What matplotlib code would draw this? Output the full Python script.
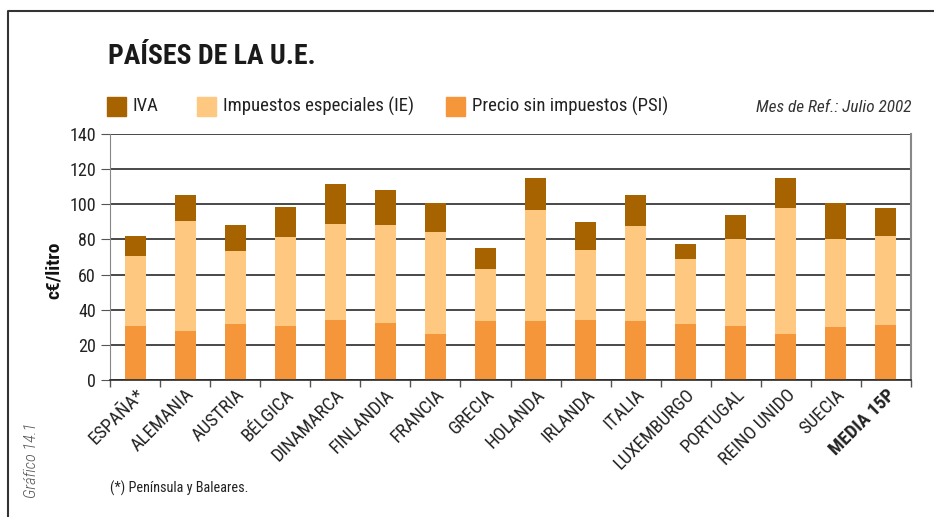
import matplotlib.pyplot as plt
from matplotlib.patches import Rectangle
from matplotlib.lines import Line2D
from matplotlib.ticker import MultipleLocator, FixedLocator

# c€/litro, julio 2002
paises = ['ESPAÑA*', 'ALEMANIA', 'AUSTRIA', 'BÉLGICA', 'DINAMARCA', 'FINLANDIA',
          'FRANCIA', 'GRECIA', 'HOLANDA', 'IRLANDA', 'ITALIA', 'LUXEMBURGO',
          'PORTUGAL', 'REINO UNIDO', 'SUECIA', 'MEDIA 15P']
psi = [30.9, 28.0, 32.0, 30.9, 34.3, 32.6, 26.3, 33.7,
       33.7, 34.3, 33.7, 32.0, 30.9, 26.3, 30.3, 31.4]
ie = [39.8, 62.5, 41.5, 50.6, 54.5, 55.7, 58.0, 29.6,
      63.1, 39.8, 54.0, 37.0, 49.4, 71.6, 50.0, 50.6]
iva = [11.3, 14.8, 14.8, 17.0, 22.8, 19.9, 16.5, 11.9,
       18.2, 15.9, 17.6, 8.5, 13.7, 17.1, 20.5, 15.9]

c_iva = '#A66300'
c_ie = '#FEC880'
c_psi = '#F6963A'

plt.rcParams['font.family'] = ['Roboto Condensed', 'Roboto', 'DejaVu Sans']

W, H = 934, 517
fig = plt.figure(figsize=(W / 100, H / 100), dpi=100)
ax = fig.add_axes([110 / W, 137 / H, 801 / W, 246 / H])


def fx(px):
    return px / W


def fy(py):
    return 1 - py / H


x = list(range(len(paises)))
w = 0.42
ax.bar(x, psi, w, color=c_psi, zorder=3)
ax.bar(x, ie, w, bottom=psi, color=c_ie, zorder=3)
base = [a + b for a, b in zip(psi, ie)]
ax.bar(x, iva, w, bottom=base, color=c_iva, zorder=3)

ax.set_xlim(-0.5, len(paises) - 0.5)
ax.set_ylim(0, 140)
ax.yaxis.set_major_locator(MultipleLocator(20))
ax.yaxis.grid(True, color='#2a2a2a', linewidth=1.2, zorder=1)
ax.set_axisbelow(True)

ax.spines['top'].set_visible(False)
ax.spines['left'].set_color('#888888')
ax.spines['right'].set_color('#888888')
ax.spines['right'].set_linewidth(1.5)
ax.spines['bottom'].set_color('#2a2a2a')
ax.spines['bottom'].set_linewidth(1.2)
ax.spines['bottom'].set_zorder(4)

ax.set_xticks(x)
ax.set_xticklabels(paises, rotation=45, ha='right', va='top',
                   rotation_mode='anchor', fontsize=13.5, color='#222222')
ax.get_xticklabels()[-1].set_fontweight('bold')
ax.tick_params(axis='x', which='major', length=0, pad=4)
ax.xaxis.set_minor_locator(FixedLocator([i - 0.5 for i in range(len(paises) + 1)]))
ax.tick_params(axis='x', which='minor', length=5, color='#555555', width=1)
ax.tick_params(axis='y', length=6.5, color='#555555', labelsize=13,
               labelcolor='#222222', pad=3.5)

fig.text(fx(54), fy(270), 'c€/litro', fontsize=14, fontweight='bold', rotation=90,
         ha='center', va='center', color='#111111')

# title and legend
fig.text(fx(108), fy(57), 'PAÍSES DE LA U.E.', fontsize=20, fontweight='bold',
         va='center', ha='left', color='#1a1a1a')

items = [(c_iva, 'IVA', 107), (c_ie, 'Impuestos especiales (IE)', 197),
         (c_psi, 'Precio sin impuestos (PSI)', 446)]
for col, txt, px in items:
    fig.patches.append(Rectangle((fx(px), fy(116)), 19 / W, 19 / H,
                                 transform=fig.transFigure, color=col))
    fig.text(fx(px + 26), fy(106), txt, fontsize=13.5, va='center',
             ha='left', color='#222222')
fig.text(fx(912), fy(108), 'Mes de Ref.: Julio 2002', fontsize=12.4,
         style='italic', va='center', ha='right', color='#333333')

fig.text(fx(110), fy(488), '(*) Península y Baleares.', fontsize=10.3,
         va='center', ha='left', color='#222222')
fig.text(fx(31), fy(460), 'Gráfico 14.1', fontsize=11.8, style='italic',
         fontweight='light', rotation=90, va='center', ha='center', color='#555555')

# outer frame
fig.lines.append(Line2D([fx(8), fx(8), 1.0], [0, fy(11), fy(11)],
                        transform=fig.transFigure, color='#333333', linewidth=1.5))

fig.savefig('out.png', dpi=100)
